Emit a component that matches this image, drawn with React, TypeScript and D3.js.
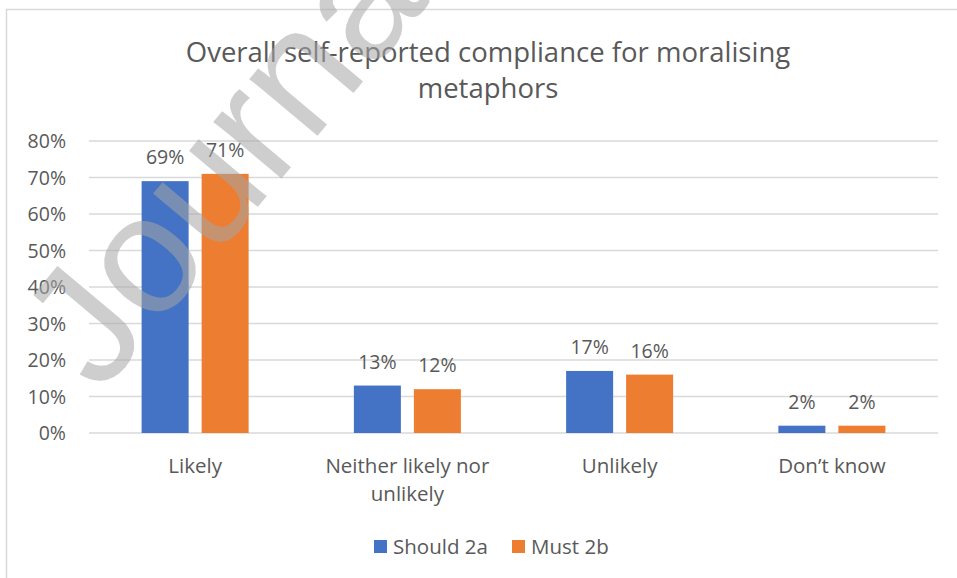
import React from "react";
import * as d3 from "d3";

const categories: string[][] = [["Likely"], ["Neither likely nor", "unlikely"], ["Unlikely"], ["Don’t know"]];
const seriesNames = ["Should 2a", "Must 2b"];
const should2a = [0.69, 0.13, 0.17, 0.02];
const must2b = [0.71, 0.12, 0.16, 0.02];
const yTicks = [0, 0.1, 0.2, 0.3, 0.4, 0.5, 0.6, 0.7, 0.8];
const titleLines = ["Overall self-reported compliance for moralising", "metaphors"];
const colors = ["#4472C4", "#ED7D31"];

const W = 957, H = 578;
const FONT = "'Open Sans', sans-serif";
const TXT = "#595959";

export default function App() {
  const x = d3.scaleBand<number>().domain(d3.range(categories.length)).range([89, 938]);
  const y = d3.scaleLinear().domain([0, 0.8]).range([433, 141]);
  const barW = 47, gap = 13;
  const fmt = d3.format(".0%");
  const series = [should2a, must2b];
  return (
    <svg width={W} height={H} style={{ position: "absolute", left: 0, top: 0 }} fontFamily={FONT}>
      <rect x={0} y={0} width={W} height={H} fill="#fff" />
      <rect x={6.5} y={9.5} width={W + 20} height={H + 20} fill="none" stroke="#d9d9d9" strokeWidth={1.5} />
      {titleLines.map((t, i) => (
        <text key={i} x={488} y={62 + i * 36} textAnchor="middle" fontSize={27.5} fill={TXT}>{t}</text>
      ))}
      {yTicks.map((t) => (
        <g key={t}>
          <line x1={89} x2={938} y1={y(t)} y2={y(t)} stroke="#d9d9d9" strokeWidth={1.3} />
          <text x={66} y={y(t) + 7} textAnchor="end" fontSize={19.5} fill={TXT}>{fmt(t)}</text>
        </g>
      ))}
      {categories.map((c, i) => {
        const cx = x(i)! + x.bandwidth() / 2;
        return (
          <g key={i}>
            {series.map((s, j) => {
              const bx = cx - gap / 2 - barW + j * (barW + gap);
              return (
                <g key={j}>
                  <rect x={bx} y={y(s[i])} width={barW} height={y(0) - y(s[i])} fill={colors[j]} />
                  <text x={bx + barW / 2} y={y(s[i]) - 17} textAnchor="middle" fontSize={19.5} fill={TXT}>{fmt(s[i])}</text>
                </g>
              );
            })}
            {c.map((l, k) => (
              <text key={k} x={cx} y={473 + k * 28} textAnchor="middle" fontSize={20.5} fill={TXT}>{l}</text>
            ))}
          </g>
        );
      })}
      {seriesNames.map((n, j) => {
        const lx = [374, 512][j];
        return (
          <g key={n}>
            <rect x={lx} y={540} width={13} height={13} fill={colors[j]} />
            <text x={lx + 19} y={554} fontSize={20.5} fill={TXT}>{n}</text>
          </g>
        );
      })}
      <text transform="translate(100,395) rotate(-50)" fontSize={168} fill="#a6a6a6" fillOpacity={0.55} fontFamily="'Liberation Sans', Arial, sans-serif">Journal Pre-proof</text>
    </svg>
  );
}
